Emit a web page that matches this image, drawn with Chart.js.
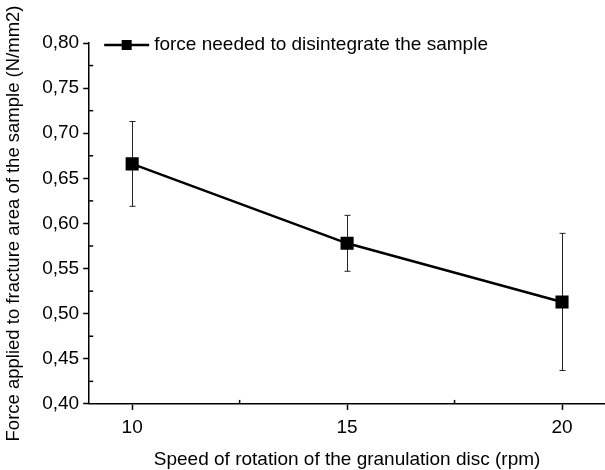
<!doctype html>
<html>

<head>
  <title>force vs rotation speed</title>
  <script src="https://cdn.jsdelivr.net/npm/chart.js@4.4.1/dist/chart.umd.min.js"></script>
  <style>
    html, body {
      margin: 0;
      padding: 0;
      background: #fff;
    }
    .chart {
      width: 605px;
      height: 470px;
    }
  </style>
</head>

<body>
  <div class="chart">
    <canvas id="myChart"></canvas>
  </div>

  <script>
    // data
    var speeds = [10, 15, 20];
    var force = [0.666, 0.578, 0.513];
    var errLow = [0.619, 0.547, 0.437];
    var errHigh = [0.713, 0.609, 0.589];

    var xTicks = [10, 15, 20];
    var xMinor = [12.5, 17.5];
    var yTicks = [0.40, 0.45, 0.50, 0.55, 0.60, 0.65, 0.70, 0.75, 0.80];
    var yMinor = [0.425, 0.475, 0.525, 0.575, 0.625, 0.675, 0.725, 0.775];

    var seriesLabel = 'force needed to disintegrate the sample';
    var xTitle = 'Speed of rotation of the granulation disc (rpm)';
    var yTitle = 'Force applied to fracture area of the sample (N/mm2)';

    var fontFamily = '"Liberation Sans", Arial, sans-serif';
    var fontSize = 19;

    // error bars, minor (inward) ticks and the legend inside the plot
    var extras = {
      id: 'extras',
      beforeDatasetsDraw: function(chart) {
        var ctx = chart.ctx;
        var x = chart.scales.x;
        var y = chart.scales.y;
        ctx.save();
        ctx.strokeStyle = '#222';
        ctx.lineWidth = 1;
        speeds.forEach(function(s, i) {
          var px = Math.round(x.getPixelForValue(s)) + 0.5;
          var top = y.getPixelForValue(errHigh[i]);
          var bot = y.getPixelForValue(errLow[i]);
          ctx.beginPath();
          ctx.moveTo(px, top);
          ctx.lineTo(px, bot);
          ctx.moveTo(px - 3, top);
          ctx.lineTo(px + 3, top);
          ctx.moveTo(px - 3, bot);
          ctx.lineTo(px + 3, bot);
          ctx.stroke();
        });
        ctx.strokeStyle = '#000';
        ctx.lineWidth = 1.5;
        var area = chart.chartArea;
        xMinor.forEach(function(v) {
          var px = x.getPixelForValue(v);
          ctx.beginPath();
          ctx.moveTo(px, area.bottom);
          ctx.lineTo(px, area.bottom - 4);
          ctx.stroke();
        });
        yMinor.forEach(function(v) {
          var py = y.getPixelForValue(v);
          ctx.beginPath();
          ctx.moveTo(area.left, py);
          ctx.lineTo(area.left + 4, py);
          ctx.stroke();
        });
        ctx.restore();
      },
      afterDraw: function(chart) {
        var ctx = chart.ctx;
        var area = chart.chartArea;
        var lx = area.left + 15;
        var ly = area.top + 2;
        ctx.save();
        ctx.strokeStyle = '#000';
        ctx.lineWidth = 2.5;
        ctx.beginPath();
        ctx.moveTo(lx, ly);
        ctx.lineTo(lx + 45, ly);
        ctx.stroke();
        ctx.fillStyle = '#000';
        ctx.fillRect(lx + 17.5, ly - 5, 10, 10);
        ctx.font = fontSize + 'px ' + fontFamily;
        ctx.textBaseline = 'middle';
        ctx.fillText(seriesLabel, lx + 50, ly);
        ctx.restore();
      }
    };

    var config = {
      type: 'line',
      data: {
        datasets: [{
          label: seriesLabel,
          data: speeds.map(function(s, i) {
            return { x: s, y: force[i] };
          }),
          borderColor: '#000',
          backgroundColor: '#000',
          borderWidth: 2.5,
          pointStyle: 'rect',
          pointRadius: 7.5,
          pointHoverRadius: 7.5,
          tension: 0
        }]
      },
      options: {
        responsive: true,
        maintainAspectRatio: false,
        animation: false,
        layout: {
          autoPadding: false,
          padding: { top: 43, right: 0, left: 3, bottom: -1.5 }
        },
        scales: {
          x: {
            type: 'linear',
            min: 9,
            max: 21,
            afterBuildTicks: function(scale) {
              scale.ticks = xTicks.map(function(v) { return { value: v }; });
            },
            border: { display: true, color: '#000', width: 1.5 },
            grid: {
              drawOnChartArea: false,
              drawTicks: true,
              tickLength: 6,
              tickWidth: 1.5,
              tickColor: '#000'
            },
            ticks: {
              color: '#000',
              font: { family: fontFamily, size: fontSize },
              padding: 6.5,
              maxRotation: 0
            },
            title: {
              display: true,
              text: xTitle,
              color: '#000',
              font: { family: fontFamily, size: fontSize },
              padding: { top: 3, bottom: 0 }
            }
          },
          y: {
            min: 0.40,
            max: 0.80,
            afterBuildTicks: function(scale) {
              scale.ticks = yTicks.map(function(v) { return { value: v }; });
            },
            border: { display: true, color: '#000', width: 1.5 },
            grid: {
              drawOnChartArea: false,
              drawTicks: true,
              tickLength: 6,
              tickWidth: 1.5,
              tickColor: '#000'
            },
            ticks: {
              color: '#000',
              font: { family: fontFamily, size: fontSize },
              padding: 4,
              callback: function(v) {
                return v.toFixed(2).replace('.', ',');
              }
            },
            title: {
              display: true,
              text: yTitle,
              color: '#000',
              font: { family: fontFamily, size: 18.5 },
              padding: { top: 0, bottom: 13 }
            }
          }
        },
        plugins: {
          legend: { display: false },
          tooltip: { enabled: false }
        }
      },
      plugins: [extras]
    };

    window.onload = function() {
      var ctx = document.getElementById('myChart').getContext('2d');
      window.myChart = new Chart(ctx, config);
    };
  </script>
</body>

</html>
